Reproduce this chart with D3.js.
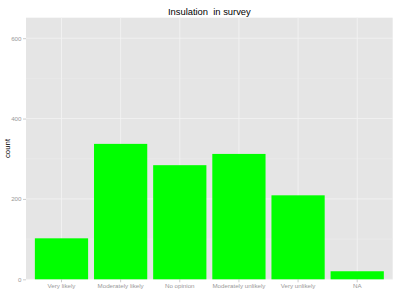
<!DOCTYPE html>
<html>
<head>
<meta charset="utf-8">
<script src="https://cdn.jsdelivr.net/npm/d3@7"></script>
<style>
  body { margin: 0; background: #fff; }
  svg { display: block; font-family: "Liberation Sans", Arial, sans-serif; }
</style>
</head>
<body>
<div id="chart"></div>
<script>
const categories = ["Very likely", "Moderately likely", "No opinion", "Moderately unlikely", "Very unlikely", "NA"];
const counts = [102, 337, 284, 312, 209, 20];
const yTicks = [0, 200, 400, 600];
const yMinor = [100, 300, 500];

const width = 400, height = 300;
const panel = { left: 26, right: 392.7, top: 17.7, bottom: 279.3 };

const svg = d3.select("#chart").append("svg")
    .attr("width", width)
    .attr("height", height);

// discrete scale, 0.6 step expansion each side like ggplot
const x = d3.scaleBand()
    .domain(categories)
    .range([panel.left, panel.right])
    .paddingInner(0.1)
    .paddingOuter(0.15);

const y = d3.scaleLinear()
    .domain([0, 651])
    .range([panel.bottom, panel.top]);

svg.append("rect")
    .attr("x", panel.left)
    .attr("y", panel.top)
    .attr("width", panel.right - panel.left)
    .attr("height", panel.bottom - panel.top)
    .attr("fill", "#e5e5e5");

// minor grid
svg.append("g").selectAll("line").data(yMinor).join("line")
    .attr("x1", panel.left).attr("x2", panel.right)
    .attr("y1", d => y(d)).attr("y2", d => y(d))
    .attr("stroke", "#ededed").attr("stroke-width", 0.5);

// major grid
svg.append("g").selectAll("line").data(yTicks).join("line")
    .attr("x1", panel.left).attr("x2", panel.right)
    .attr("y1", d => y(d)).attr("y2", d => y(d))
    .attr("stroke", "#f4f4f4").attr("stroke-width", 0.8);

svg.append("g").selectAll("line").data(categories).join("line")
    .attr("x1", d => x(d) + x.bandwidth() / 2).attr("x2", d => x(d) + x.bandwidth() / 2)
    .attr("y1", panel.top).attr("y2", panel.bottom)
    .attr("stroke", "#f4f4f4").attr("stroke-width", 0.8);

// bars
svg.append("g").selectAll("rect").data(counts).join("rect")
    .attr("x", (d, i) => x(categories[i]))
    .attr("y", d => y(d))
    .attr("width", x.bandwidth())
    .attr("height", d => y(0) - y(d))
    .attr("fill", "#00ff00");

// axes
const yAxis = svg.append("g")
    .attr("transform", `translate(${panel.left},0)`)
    .call(d3.axisLeft(y).tickValues(yTicks).tickSize(3).tickPadding(1.5));
const xAxis = svg.append("g")
    .attr("transform", `translate(0,${panel.bottom})`)
    .call(d3.axisBottom(x).tickSize(3).tickPadding(1.5));

[yAxis, xAxis].forEach(g => {
    g.select(".domain").remove();
    g.selectAll(".tick line").attr("stroke", "#aaa").attr("stroke-width", 0.6);
    g.selectAll(".tick text")
        .attr("fill", "#999")
        .style("font-size", "6.2px")
        .style("font-family", "'Liberation Sans', Arial, sans-serif");
});

// title
svg.append("text")
    .attr("x", (panel.left + panel.right) / 2)
    .attr("y", 15.3)
    .attr("text-anchor", "middle")
    .style("font-size", "9.4px")
    .style("white-space", "pre")
    .attr("fill", "#000")
    .text("Insulation  in survey");

// y axis title
svg.append("text")
    .attr("transform", `translate(10,${(panel.top + panel.bottom) / 2}) rotate(-90)`)
    .attr("text-anchor", "middle")
    .style("font-size", "7.8px")
    .attr("fill", "#000")
    .text("count");
</script>
</body>
</html>
